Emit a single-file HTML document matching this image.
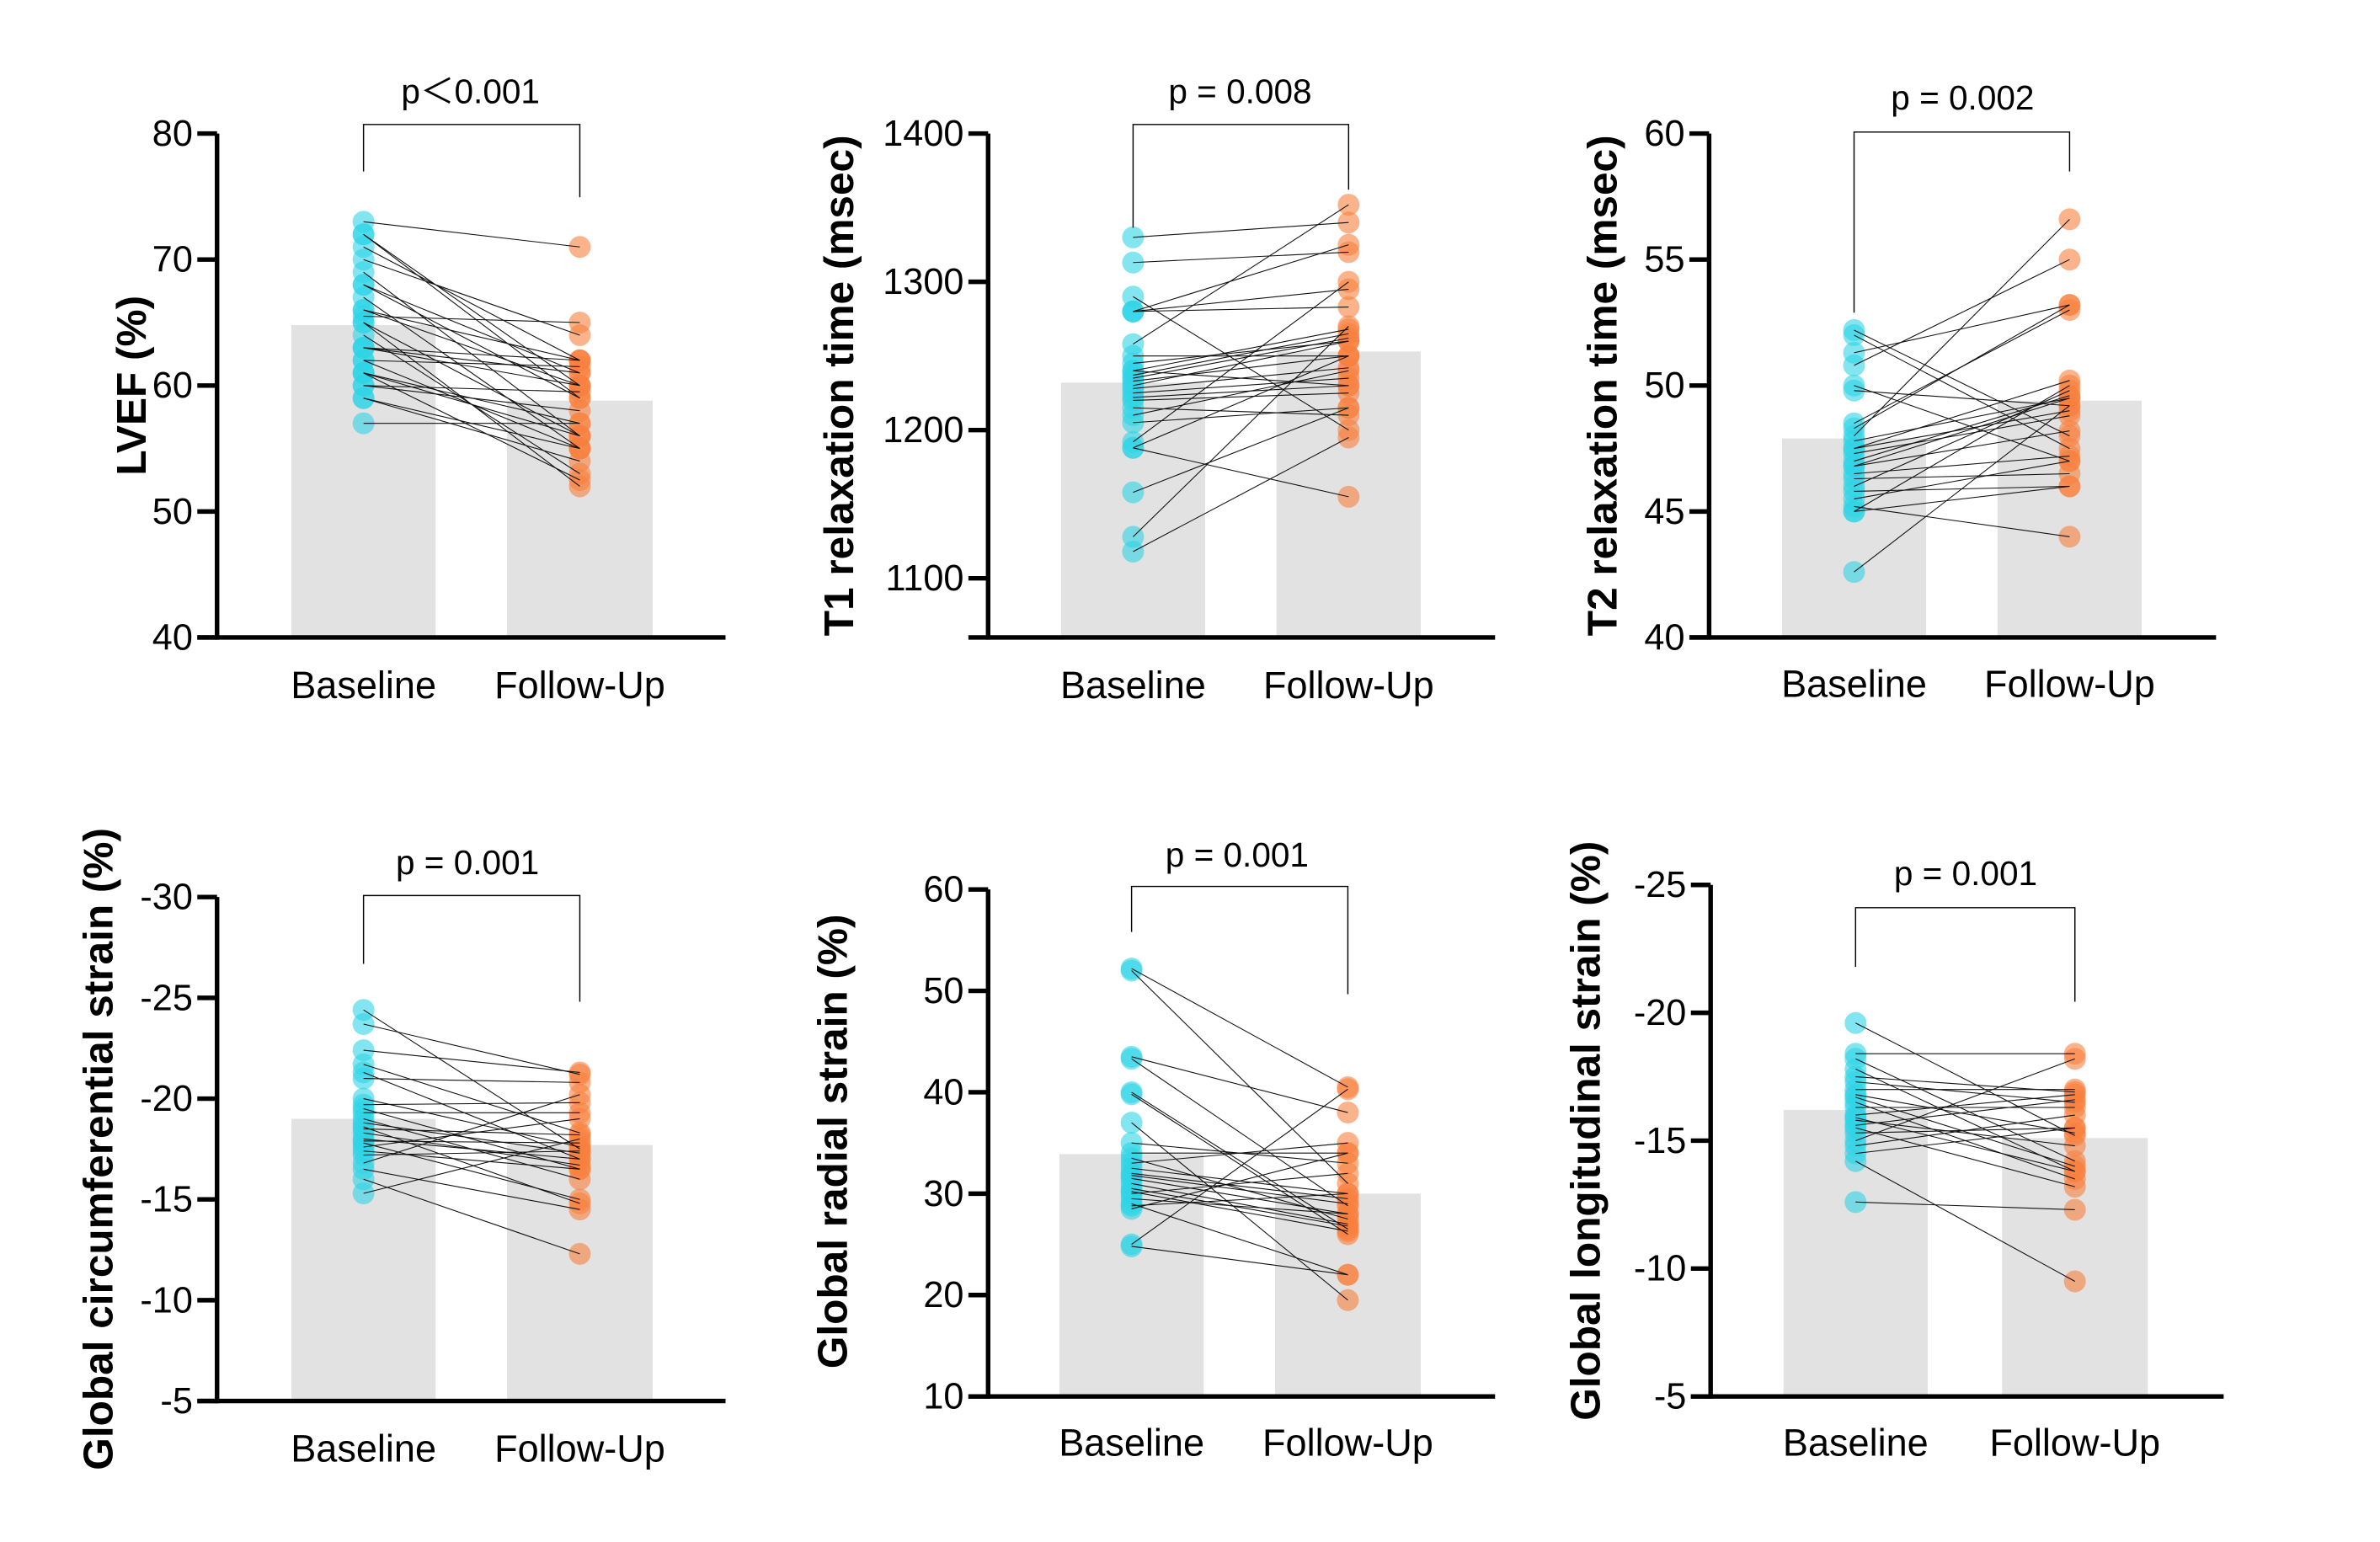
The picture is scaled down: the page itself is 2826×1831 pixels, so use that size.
<!DOCTYPE html>
<html><head><meta charset="utf-8"><style>
html,body{margin:0;padding:0;background:#fff;}
svg{display:block;font-family:"Liberation Sans",Arial,sans-serif;}
</style></head><body>
<svg id="chart" width="2826" height="1831" viewBox="0 0 1568 1015.9" preserveAspectRatio="none" xmlns="http://www.w3.org/2000/svg"></svg>
<script>
// ---- data ----
const categories = ["Baseline", "Follow-Up"];
const lvefBase = [73,72,72,71,70,69,68,68,67,66,65.5,65,65,63,63,63,62,62,61,61,60,59,59,57,64,66,61,60];
const lvefFollow = [71,60,59,62,64,56,59,61,55,60,65,56,52,62,61,60,61.5,55,57,56,59.5,55,54,57,53,62,52.5,58];
const lvefMeans = [64.8, 58.8];
const t1Base = [1330,1313,1290,1280,1280,1280,1258,1250,1240,1237,1235,1233,1230,1228,1225,1222,1220,1215,1210,1205,1192,1188,1188,1158,1128,1118,1240,1245];
const t1Follow = [1340,1320,1200,1325,1295,1283,1352,1250,1268,1265,1262,1250,1260,1242,1235,1230,1225,1210,1240,1215,1300,1250,1155,1215,1270,1195,1230,1260];
const t1Means = [1232, 1253];
const t2Base = [52.2,52,51.3,50.8,50,49.8,48.5,48.3,48,47.8,47.5,47.3,47,46.8,46.5,46.3,46,45.8,45.5,45.2,45,45,42.6,47.5,46.8];
const t2Follow = [48,47.5,53.2,55,47,49.2,53,53.2,56.6,49.5,49,48.8,49.6,48.2,47.2,46.5,49.8,46,47,44,50,46,49.2,50.2,49.5];
const t2Means = [47.9, 49.4];
const gcsBase = [-24.4,-23.7,-22.4,-21.7,-21.3,-21,-20,-19.7,-19.5,-19.3,-19,-18.8,-18.5,-18.3,-18,-17.8,-17.6,-17.4,-17.2,-16.8,-16.5,-16,-15.3,-18.6,-17.9];
const gcsFollow = [-17.5,-21.2,-21.3,-18.3,-17,-20.8,-17.6,-19.8,-16.5,-19.3,-16,-17.3,-18.2,-16.7,-17,-15,-19,-16.5,-17.4,-20.2,-14.5,-12.3,-18,-14.8,-17.8];
const gcsMeans = [-19.0, -17.7];
const grsBase = [52.2,52,43.5,43.3,40,39.8,37,35,33,32.5,32,31.5,31,30.5,30,29.5,29,28.8,28.5,25,24.8,33.5,31.8,30.2,34];
const grsFollow = [40.5,31,38,28.8,26.5,26,19.5,33,35,30,29.5,28,27,26.8,32,28,22,30,34,40.3,22,27.5,29,26.3,34];
const grsMeans = [33.9, 30.0];
const glsBase = [-19.6,-18.4,-18.2,-17.8,-17.5,-17.3,-17,-16.8,-16.5,-16.3,-16,-15.8,-15.5,-15.3,-15,-14.8,-14.5,-14.2,-12.6,-16.7,-15.9,-15.6];
const glsFollow = [-15.2,-18.4,-14.2,-13.8,-16.9,-16.5,-17,-15.3,-13.5,-16.3,-16.8,-14.8,-13.2,-15.5,-18.2,-16,-15.5,-9.5,-12.3,-14,-13.8,-16.6];
const glsMeans = [-16.2, -15.1];
const lvefTicks = [40,50,60,70,80];
const t1Ticks = [1100,1200,1300,1400];
const t2Ticks = [40,45,50,55,60];
const gcsTicks = [-5,-10,-15,-20,-25,-30];
const grsTicks = [10,20,30,40,50,60];
const glsTicks = [-5,-10,-15,-20,-25];

const svg = document.getElementById('chart');
const NS = 'http://www.w3.org/2000/svg';
function mk(tag, attrs, parent){
  const e = document.createElementNS(NS, tag);
  for (const k in attrs) e.setAttribute(k, attrs[k]);
  parent.appendChild(e);
  return e;
}

const panels = [
 {id:'lvef', title:'LVEF (%)', tsize:27.5, base:lvefBase, fol:lvefFollow, means:lvefMeans, ticks:lvefTicks,
  ax:143, xEnd:478, y0:420, v0:40, y1:88, v1:80, top:88, bars:[[192,287],[334,430]],
  p:'p\uFF1C0.001', px:310, py:68, bry:82, bl:113, br:130, tx:87, ty:254, lx:452},
 {id:'t1', title:'T1 relaxation time (msec)', tsize:27.5, base:t1Base, fol:t1Follow, means:t1Means, ticks:t1Ticks,
  ax:651, xEnd:985, y0:381, v0:1100, y1:88, v1:1400, top:88, bottom:420, bars:[[699,794],[841,936]],
  p:'p = 0.008', px:817, py:68, bry:82, bl:150, br:125, tx:553, ty:254, lx:452},
 {id:'t2', title:'T2 relaxation time (msec)', tsize:27.5, base:t2Base, fol:t2Follow, means:t2Means, ticks:t2Ticks,
  ax:1126, xEnd:1460, y0:420, v0:40, y1:88, v1:60, top:88, bars:[[1174,1269],[1316,1411]],
  p:'p = 0.002', px:1293, py:72, bry:87, bl:206, br:113, tx:1056, ty:254, lx:451},
 {id:'gcs', title:'Global circumferential strain (%)', tsize:27.5, base:gcsBase, fol:gcsFollow, means:gcsMeans, ticks:gcsTicks,
  ax:143, xEnd:478, y0:923, v0:-5, y1:591, v1:-30, top:591, bars:[[192,287],[334,430]],
  p:'p = 0.001', px:308, py:576, bry:590, bl:635, br:660, tx:65, ty:757, lx:955},
 {id:'grs', title:'Global radial strain (%)', tsize:27.5, base:grsBase, fol:grsFollow, means:grsMeans, ticks:grsTicks,
  ax:651, xEnd:985, y0:920, v0:10, y1:586, v1:60, top:586, bars:[[698,793],[840,936]],
  p:'p = 0.001', px:815, py:571, bry:584, bl:614, br:655, tx:549, ty:752, lx:951},
 {id:'gls', title:'Global longitudinal strain (%)', tsize:27.5, base:glsBase, fol:glsFollow, means:glsMeans, ticks:glsTicks,
  ax:1127, xEnd:1465, y0:920, v0:-5, y1:583, v1:-25, top:583, bars:[[1175,1270],[1319,1415]],
  p:'p = 0.001', px:1295, py:583, bry:598, bl:637, br:660, tx:1045, ty:745, lx:951}
];

panels.forEach(P => {
  const g = mk('g', {}, svg);
  
  
  const yS = v => P.y0 + (v - P.v0) * (P.y1 - P.y0) / (P.v1 - P.v0);
  const bottom = P.bottom || P.y0;
  const cx = P.bars.map(b => (b[0] + b[1]) / 2);
  P.means.forEach((m, i) => {
    const r = mk('rect', {x:P.bars[i][0], y:yS(m), width:P.bars[i][1]-P.bars[i][0], height:bottom - yS(m), fill:'#e2e2e2'}, g);
    
    
  });
  P.base.forEach((v, i) => {
    const c = mk('circle', {cx:cx[0], cy:yS(v), r:7.2, fill:'#2ed3e6', 'fill-opacity':0.6}, g);
    
    
  });
  P.fol.forEach((v, i) => {
    const c = mk('circle', {cx:cx[1], cy:yS(v), r:7.2, fill:'#f8803e', 'fill-opacity':0.6}, g);
    
    
  });
  P.base.forEach((v, i) => {
    const l = mk('line', {x1:cx[0], y1:yS(v), x2:cx[1], y2:yS(P.fol[i]), stroke:'#111', 'stroke-width':0.6}, g);
    
    
  });
  const ya = mk('line', {x1:P.ax, y1:P.top, x2:P.ax, y2:bottom + 1.5, stroke:'#000', 'stroke-width':3}, g);
  
  
  const xa = mk('line', {x1:P.ax - 13, y1:bottom, x2:P.xEnd, y2:bottom, stroke:'#000', 'stroke-width':3}, g);
  
  
  P.ticks.forEach(t => {
    const y = yS(t);
    const tk = mk('line', {x1:P.ax - 13, y1:y, x2:P.ax, y2:y, stroke:'#000', 'stroke-width':3}, g);
    
    
    const tl = mk('text', {x:P.ax - 16, y:y + 8, 'text-anchor':'end', 'font-size':24, fill:'#000'}, g);
    tl.textContent = t;
    
    
  });
  categories.forEach((c, i) => {
    const t = mk('text', {x:cx[i], y:P.lx + 8, 'text-anchor':'middle', 'font-size':25, fill:'#000'}, g);
    t.textContent = c;
    
    
  });
  const tt = mk('text', {x:0, y:0, 'text-anchor':'middle', 'font-size':P.tsize, 'font-weight':'bold', fill:'#000',
    transform:'translate(' + (P.tx + 9) + ',' + P.ty + ') rotate(-90)'}, g);
  tt.textContent = P.title;
  
  
  const br = mk('path', {d:'M' + cx[0] + ',' + P.bl + ' V' + P.bry + ' H' + cx[1] + ' V' + P.br, fill:'none', stroke:'#000', 'stroke-width':0.8}, g);
  
  
  const pt = mk('text', {x:P.px, y:P.py, 'text-anchor':'middle', 'font-size':22.5, fill:'#000', 'font-family':'"Liberation Sans","Noto Sans CJK SC",sans-serif'}, g);
  pt.textContent = P.p;
  
  
});
</script>
</body></html>
